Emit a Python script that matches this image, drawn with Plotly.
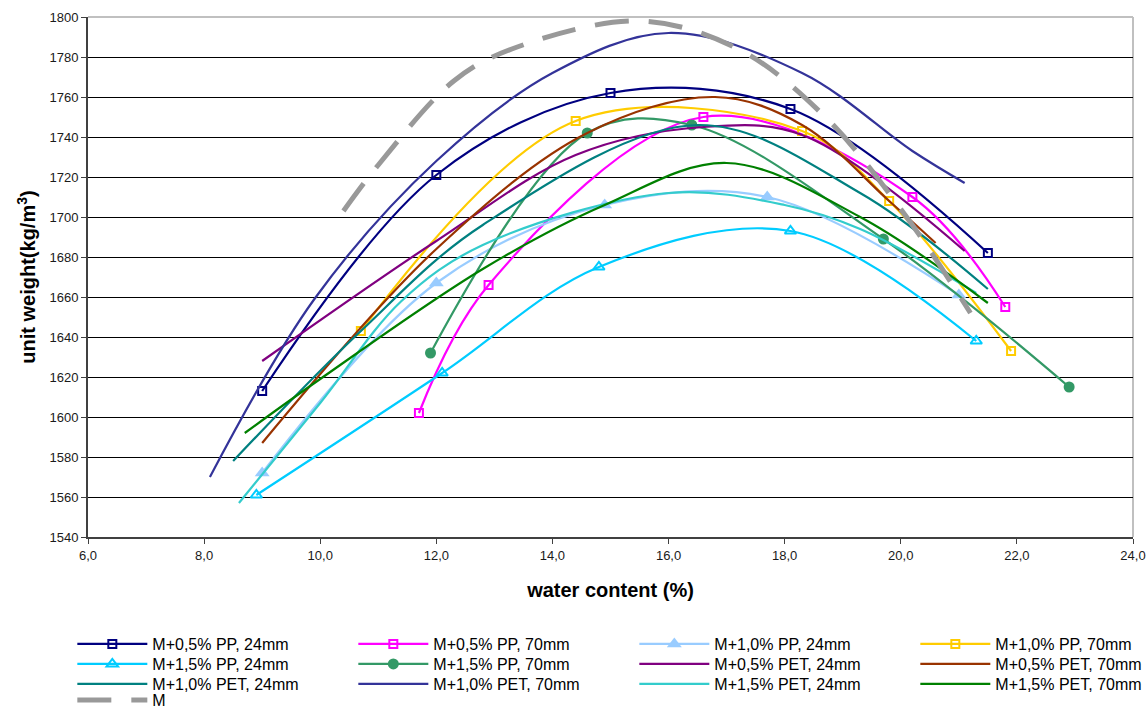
import plotly.graph_objects as go

# ---- data (water content %, unit weight kg/m3) ----
pp05_24_x = [9.0, 12.0, 15.0, 18.1, 21.5]
pp05_24_y = [1613, 1721, 1762, 1754, 1682]

pp05_70_x = [11.7, 12.9, 16.6, 20.2, 21.8]
pp05_70_y = [1602, 1666, 1750, 1710, 1655]

pp10_24_x = [9.0, 12.0, 14.9, 17.7, 21.0]
pp10_24_y = [1572, 1667, 1706, 1710, 1661]

pp10_70_x = [10.7, 14.4, 18.3, 19.8, 21.9]
pp10_70_y = [1643, 1748, 1743, 1708, 1633]

pp15_24_x = [8.9, 12.1, 14.8, 18.1, 21.3]
pp15_24_y = [1561, 1622, 1675, 1693, 1638]

pp15_70_x = [11.9, 14.6, 16.4, 19.7, 22.9]
pp15_70_y = [1632, 1742, 1746, 1689, 1615]

pet05_24_x = [9.0, 12.0, 14.4, 16.6, 18.3, 21.1]
pet05_24_y = [1628, 1688, 1731, 1745, 1741, 1683]

pet05_70_x = [9.0, 12.0, 14.6, 16.8, 18.3, 19.8, 20.6]
pet05_70_y = [1587, 1684, 1742, 1760, 1746, 1708, 1687]

pet10_24_x = [8.5, 10.7, 12.8, 16.5, 19.3, 21.5]
pet10_24_y = [1578, 1643, 1696, 1746, 1712, 1664]

pet10_70_x = [8.1, 9.9, 12.0, 14.0, 16.0, 18.3, 20.2, 21.1]
pet10_70_y = [1570, 1659, 1728, 1772, 1792, 1772, 1733, 1717]

pet15_24_x = [8.6, 10.0, 11.4, 12.8, 16.0, 18.0, 19.3, 21.3]
pet15_24_y = [1557, 1607, 1658, 1686, 1712, 1706, 1694, 1662]

pet15_70_x = [8.7, 10.0, 12.8, 14.9, 17.0, 19.3, 21.5]
pet15_70_y = [1592, 1619, 1674, 1706, 1727, 1700, 1657]

m_x = [10.4, 11.0, 12.3, 13.3, 15.5, 17.2, 18.7, 20.1, 21.2]
m_y = [1703, 1726, 1768, 1784, 1798, 1784, 1750, 1700, 1652]

x_tickvals = [6, 8, 10, 12, 14, 16, 18, 20, 22, 24]
x_ticktext = ["6,0", "8,0", "10,0", "12,0", "14,0", "16,0", "18,0", "20,0", "22,0", "24,0"]
y_tickvals = list(range(1540, 1801, 20))

FONT = "Arial, Liberation Sans, sans-serif"

series = [
    ("M+0,5% PP, 24mm", pp05_24_x, pp05_24_y, "#000080", dict(symbol="square-open", size=8, line=dict(width=2))),
    ("M+0,5% PP, 70mm", pp05_70_x, pp05_70_y, "#FF00FF", dict(symbol="square-open", size=8, line=dict(width=2))),
    ("M+1,0% PP, 24mm", pp10_24_x, pp10_24_y, "#99CCFF", dict(symbol="triangle-up", size=13)),
    ("M+1,0% PP, 70mm", pp10_70_x, pp10_70_y, "#FFCC00", dict(symbol="square-open", size=8, line=dict(width=2))),
    ("M+1,5% PP, 24mm", pp15_24_x, pp15_24_y, "#00CCFF", dict(symbol="triangle-up-open", size=10, line=dict(width=2))),
    ("M+1,5% PP, 70mm", pp15_70_x, pp15_70_y, "#339966", dict(symbol="circle", size=11)),
    ("M+0,5% PET, 24mm", pet05_24_x, pet05_24_y, "#800080", None),
    ("M+0,5% PET, 70mm", pet05_70_x, pet05_70_y, "#993300", None),
    ("M+1,0% PET, 24mm", pet10_24_x, pet10_24_y, "#008080", None),
    ("M+1,0% PET, 70mm", pet10_70_x, pet10_70_y, "#333399", None),
    ("M+1,5% PET, 24mm", pet15_24_x, pet15_24_y, "#33CCCC", None),
    ("M+1,5% PET, 70mm", pet15_70_x, pet15_70_y, "#008000", None),
]

legend_ids = ["legend", "legend2", "legend3", "legend4"]

fig = go.Figure()
for i, (name, xs, ys, color, mk) in enumerate(series):
    lg = legend_ids[i // 4]
    if mk is not None:
        mk = dict(mk, color=color)
        fig.add_trace(go.Scatter(x=xs, y=ys, name=name, mode="lines+markers", legend=lg,
                                 line=dict(color=color, width=2.2, shape="spline", smoothing=1),
                                 marker=mk))
    else:
        fig.add_trace(go.Scatter(x=xs, y=ys, name=name, mode="lines", legend=lg,
                                 line=dict(color=color, width=2.2, shape="spline", smoothing=1)))

fig.add_trace(go.Scatter(x=m_x, y=m_y, name="M", mode="lines", legend="legend4",
                         line=dict(color="#999999", width=5, dash="34px,20px",
                                   shape="spline", smoothing=1)))

PLOT_H = 520.0
row_centers = [644, 664, 684, 700]  # px from top
legend_common = dict(orientation="h", x=-0.015, xanchor="left", yanchor="middle",
                     font=dict(family=FONT, size=16, color="#000000"),
                     itemwidth=70, entrywidth=196, entrywidthmode="pixels",
                     bgcolor="rgba(0,0,0,0)", borderwidth=0)
legends = {}
for lid, yc in zip(legend_ids, row_centers):
    legends[lid] = dict(legend_common, y=(537 - yc) / PLOT_H)

fig.update_layout(
    width=1147, height=709,
    margin=dict(l=88, r=14, t=17, b=172, autoexpand=False),
    paper_bgcolor="white", plot_bgcolor="white",
    font=dict(family=FONT, size=13, color="#1a1a1a"),
    showlegend=True,
    xaxis=dict(range=[6, 24], tickvals=x_tickvals, ticktext=x_ticktext,
               showgrid=False, zeroline=False, showline=True, linecolor="#404040", linewidth=2,
               ticks="outside", ticklen=5, tickcolor="#404040", tickwidth=1,
               tickfont=dict(family=FONT, size=13, color="#1a1a1a"),
               title=dict(text="<b>water content (%)</b>", standoff=21,
                          font=dict(family=FONT, size=20, color="#000000"))),
    yaxis=dict(range=[1540, 1800], tickvals=y_tickvals,
               showgrid=True, gridcolor="#000000", gridwidth=1, zeroline=False,
               showline=True, linecolor="#404040", linewidth=2,
               ticks="outside", ticklen=5, tickcolor="#404040", tickwidth=1,
               tickfont=dict(family=FONT, size=13, color="#1a1a1a"),
               title=dict(text="<b>unit weight(kg/m<sup>3</sup>)</b>", standoff=8,
                          font=dict(family=FONT, size=20, color="#000000"))),
    shapes=[
        dict(type="line", xref="paper", yref="paper", x0=0, x1=1, y0=1, y1=1,
             line=dict(color="#c0c0c0", width=2), layer="between"),
        dict(type="line", xref="paper", yref="paper", x0=1, x1=1, y0=0, y1=1,
             line=dict(color="#c0c0c0", width=2), layer="between"),
    ],
    **legends,
)

fig.write_html("out.html")
